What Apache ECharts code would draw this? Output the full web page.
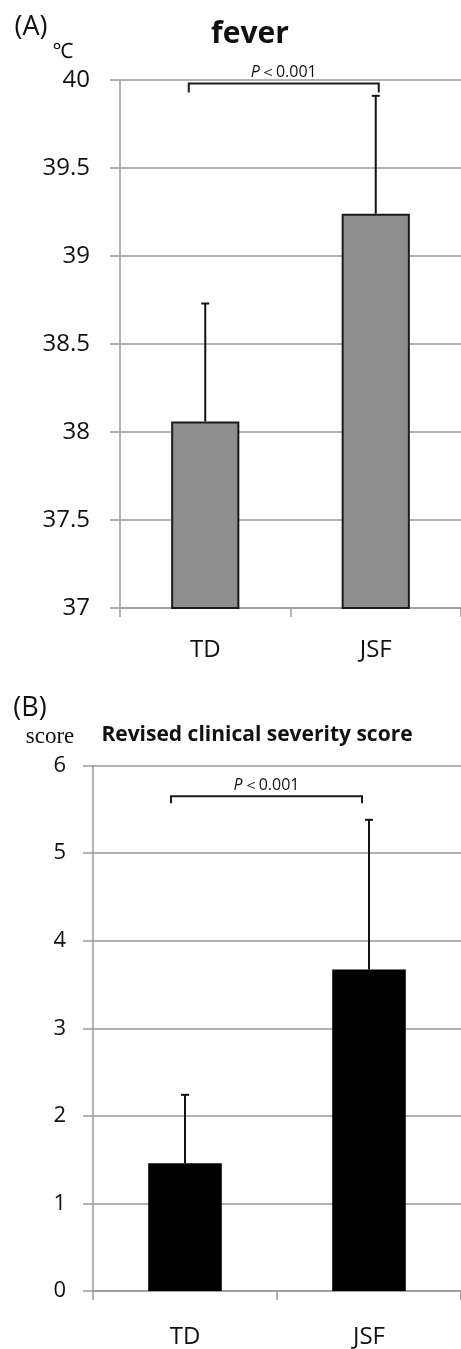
<!DOCTYPE html>
<html>
<head>
<meta charset="utf-8">
<script src="https://cdn.jsdelivr.net/npm/echarts@6/dist/echarts.min.js"></script>
<style>
  html, body { margin: 0; padding: 0; background: #fff; }
  #chart { width: 461px; height: 1349px; }
</style>
</head>
<body>
<div id="chart"></div>
<script>
// Groups compared in both panels
const groups = ['TD', 'JSF'];

// (A) fever, °C: mean and SD
const feverMean = [38.06, 39.24];
const feverSD = [0.67, 0.67];
const feverTicks = [37, 37.5, 38, 38.5, 39, 39.5, 40];

// (B) revised clinical severity score: mean and SD
const scoreMean = [1.46, 3.67];
const scoreSD = [0.78, 1.71];
const scoreTicks = [0, 1, 2, 3, 4, 5, 6];

// Significance brackets (value level on each y axis) and their label
const bracketLevel = [39.98, 5.65];
const pText = '{i|P}＜0.001';

const SANS = '"Open Sans", "Noto Sans", sans-serif';
const SERIF = '"Liberation Serif", "DejaVu Serif", serif';
const AXIS_GREY = '#9a9a9a';
const INK = '#111';

function step(ticks) { return ticks[1] - ticks[0]; }

function errorBarItem(params, api) {
  const i = api.value(0);
  const m = api.value(1);
  const s = api.value(2);
  const base = api.coord([i, m]);
  const top = api.coord([i, m + s]);
  const half = 4;
  const st = { stroke: INK, lineWidth: 2 };
  return {
    type: 'group',
    children: [
      { type: 'line', shape: { x1: base[0], y1: base[1], x2: top[0], y2: top[1] }, style: st },
      { type: 'line', shape: { x1: top[0] - half, y1: top[1], x2: top[0] + half, y2: top[1] }, style: st }
    ]
  };
}

// Bracket drawn between the two group centres, with small visual insets
function makeBracket(insetL, insetR, drop) {
  return function (params, api) {
    const lvl = api.value(2);
    const a = api.coord([api.value(0), lvl]);
    const b = api.coord([api.value(1), lvl]);
    const x1 = a[0] + insetL, x2 = b[0] + insetR, y = a[1];
    const st = { stroke: '#1a1a1a', lineWidth: 2, fill: null };
    return {
      type: 'group',
      children: [
        { type: 'polyline', shape: { points: [[x1, y + drop], [x1, y], [x2, y], [x2, y + drop]] }, style: st },
        {
          type: 'text',
          style: {
            text: pText,
            x: (x1 + x2) / 2, y: y - 3,
            align: 'center', verticalAlign: 'bottom',
            fill: INK,
            fontSize: 16, fontFamily: SANS,
            rich: {
              i: { fontStyle: 'italic', fontSize: 16, fontFamily: SANS }
            }
          }
        }
      ]
    };
  };
}

function catAxis(gridIndex, labelMargin) {
  return {
    type: 'category',
    gridIndex: gridIndex,
    data: groups,
    boundaryGap: true,
    axisLine: { show: true, lineStyle: { color: AXIS_GREY, width: 1.5 } },
    axisTick: { show: true, length: 9, lineStyle: { color: AXIS_GREY, width: 1.5 } },
    axisLabel: { margin: labelMargin, color: INK, fontSize: 24, fontFamily: SANS },
    splitLine: { show: false }
  };
}

function valAxis(gridIndex, ticks, labelMargin, fontSize) {
  return {
    type: 'value',
    gridIndex: gridIndex,
    min: ticks[0],
    max: ticks[ticks.length - 1],
    interval: step(ticks),
    axisLine: { show: true, lineStyle: { color: AXIS_GREY, width: 1.5 } },
    axisTick: { show: true, length: 10, lineStyle: { color: AXIS_GREY, width: 1.5 } },
    axisLabel: { margin: labelMargin, color: INK, fontSize: fontSize, fontFamily: SANS },
    splitLine: { show: true, lineStyle: { color: AXIS_GREY, width: 1.5 } }
  };
}

function label(text, x, y, size, weight, family) {
  return {
    type: 'text', x: x, y: y,
    style: {
      text: text, fill: INK,
      fontSize: size, fontWeight: weight, fontFamily: family,
      align: 'center', verticalAlign: 'middle',
      textAlign: 'center', textVerticalAlign: 'middle'
    }
  };
}

const chart = echarts.init(document.getElementById('chart'), null, { renderer: 'canvas' });

chart.setOption({
  animation: false,
  backgroundColor: '#fff',
  grid: [
    { left: 120, right: 0, top: 80, height: 528 },
    { left: 93, right: 0, top: 765.5, height: 528 }
  ],
  xAxis: [catAxis(0, 30), catAxis(1, 34)],
  yAxis: [valAxis(0, feverTicks, 30, 24), valAxis(1, scoreTicks, 27, 22)],
  graphic: [
    label('(A)', 31, 27, 27, 'normal', SANS),
    label('fever', 250, 34, 30, 'bold', SANS),
    label('℃', 63, 52, 21, 'normal', SANS),
    label('(B)', 30, 708, 27, 'normal', SANS),
    label('Revised clinical severity score', 257, 735, 21, 'bold', SANS),
    label('score', 50, 737, 23, 'normal', SERIF)
  ],
  series: [
    {
      type: 'bar', xAxisIndex: 0, yAxisIndex: 0,
      data: feverMean, barWidth: '40%',
      itemStyle: { color: '#8e8e8e', borderColor: '#1a1a1a', borderWidth: 2 },
      z: 2
    },
    {
      type: 'custom', xAxisIndex: 0, yAxisIndex: 0,
      data: groups.map((g, i) => [i, feverMean[i], feverSD[i]]),
      encode: { x: 0, y: 1 },
      renderItem: errorBarItem, z: 3
    },
    {
      type: 'custom', xAxisIndex: 0, yAxisIndex: 0,
      data: [[0, 1, bracketLevel[0]]],
      encode: { x: 0, y: 2 },
      renderItem: makeBracket(-16.5, 3, 9), z: 4
    },
    {
      type: 'bar', xAxisIndex: 1, yAxisIndex: 1,
      data: scoreMean, barWidth: '40%',
      itemStyle: { color: '#000' },
      z: 2
    },
    {
      type: 'custom', xAxisIndex: 1, yAxisIndex: 1,
      data: groups.map((g, i) => [i, scoreMean[i], scoreSD[i]]),
      encode: { x: 0, y: 1 },
      renderItem: errorBarItem, z: 3
    },
    {
      type: 'custom', xAxisIndex: 1, yAxisIndex: 1,
      data: [[0, 1, bracketLevel[1]]],
      encode: { x: 0, y: 2 },
      renderItem: makeBracket(-14, -7, 7), z: 4
    }
  ]
});
</script>
</body>
</html>
